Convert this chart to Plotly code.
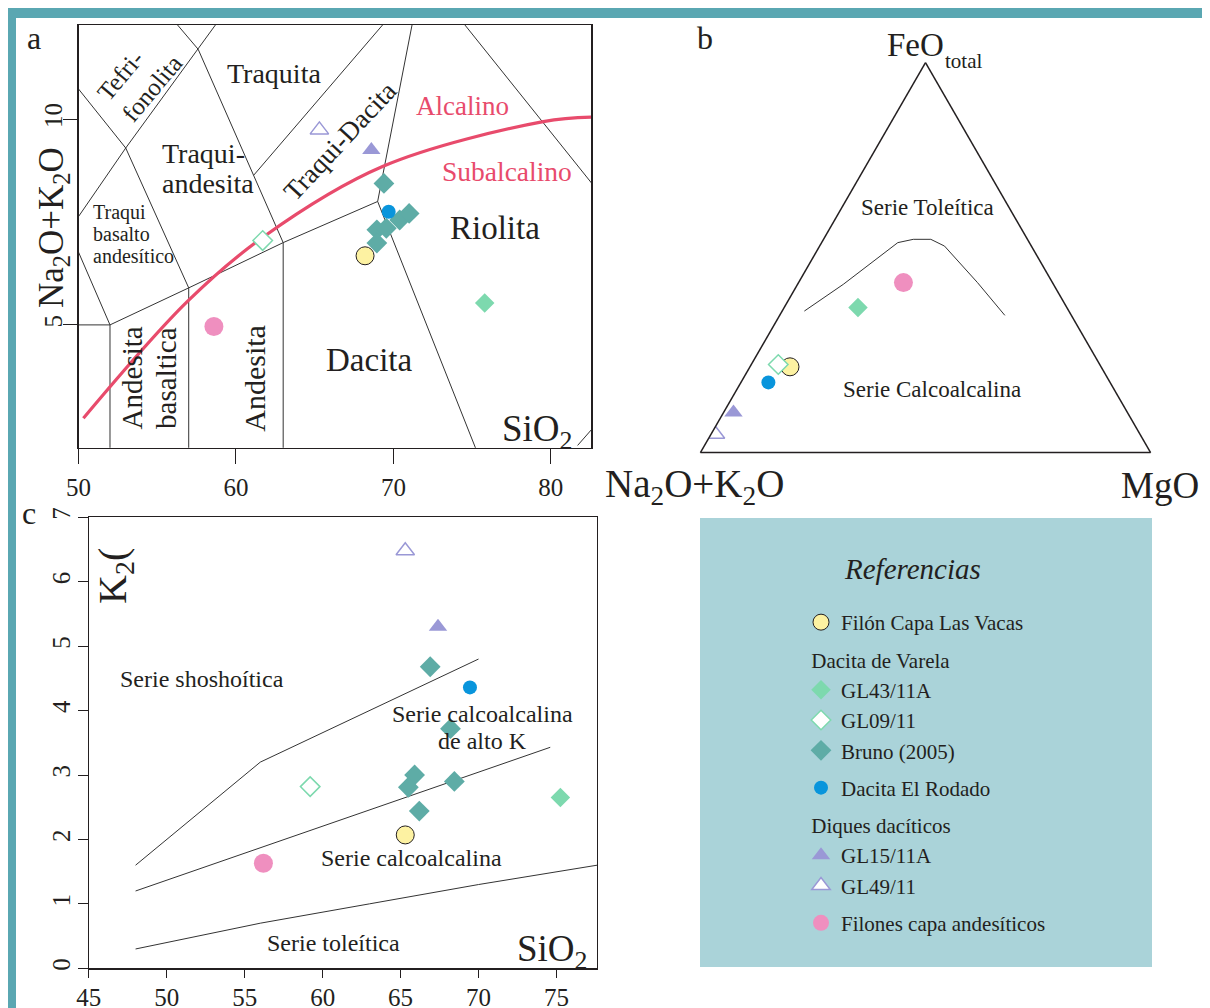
import plotly.graph_objects as go

W, H = 1210, 1008
OX, OY = 8, 8          # page body margin of the browser; positions below are screen pixels
SERIF = "Liberation Serif"
INK = "#231f20"
RED = "#e84b6c"


def PX(px):
    return (px - OX) / W


def PY(py):
    return 1 - (py - OY) / H


# ---------------- DATA ----------------
# Panel a : TAS (SiO2 vs Na2O+K2O)
vacas_sio2_a = [68.2]
vacas_alk_a = [6.68]
gl43_sio2_a = [75.8]
gl43_alk_a = [5.53]
gl09_sio2_a = [61.7]
gl09_alk_a = [7.05]
bruno_sio2_a = [69.4, 68.95, 69.55, 68.95, 70.4, 71.0]
bruno_alk_a = [8.44, 7.31, 7.35, 6.99, 7.55, 7.71]
rodado_sio2_a = [69.7]
rodado_alk_a = [7.75]
gl15_sio2_a = [68.6]
gl15_alk_a = [9.25]
gl49_sio2_a = [65.3]
gl49_alk_a = [9.74]
filones_sio2_a = [58.6]
filones_alk_a = [4.96]

# Panel b : AFM ternary (percent)
vacas_feo_b, vacas_alk_b, vacas_mgo_b = [22.0], [69.1], [8.9]
gl43_feo_b, gl43_alk_b, gl43_mgo_b = [37.2], [46.4], [16.4]
gl09_feo_b, gl09_alk_b, gl09_mgo_b = [22.6], [71.4], [6.0]
rodado_feo_b, rodado_alk_b, rodado_mgo_b = [18.0], [75.9], [6.1]
gl15_feo_b, gl15_alk_b, gl15_mgo_b = [10.3], [87.5], [2.2]
gl49_feo_b, gl49_alk_b, gl49_mgo_b = [4.7], [94.3], [1.0]
filones_feo_b, filones_alk_b, filones_mgo_b = [43.6], [33.1], [23.3]

# Panel c : SiO2 vs K2O
vacas_sio2_c, vacas_k2o_c = [65.3], [2.07]
gl43_sio2_c, gl43_k2o_c = [75.25], [2.65]
gl09_sio2_c, gl09_k2o_c = [59.2], [2.82]
bruno_sio2_c = [66.9, 68.2, 65.9, 65.5, 68.45, 66.2]
bruno_k2o_c = [4.68, 3.72, 3.0, 2.81, 2.90, 2.44]
rodado_sio2_c, rodado_k2o_c = [69.45], [4.36]
gl15_sio2_c, gl15_k2o_c = [67.4], [5.30]
gl49_sio2_c, gl49_k2o_c = [65.3], [6.48]
filones_sio2_c, filones_k2o_c = [56.2], [1.63]

# TAS field boundaries
tas_lines = [
    ([45, 48.4, 52.5], [9.4, 11.5, 14]),
    ([48.4, 53, 57, 57], [11.5, 9.3, 5.9, 0]),
    ([45, 49.4, 53, 57.6, 61], [5, 7.3, 9.3, 11.7, 13.5]),
    ([49.4, 52, 52], [7.3, 5, 0]),
    ([45, 52, 57, 63, 69, 77.3], [5, 5, 5.9, 7, 8, 0]),
    ([52.5, 57.6, 63, 63], [14, 11.7, 7, 0]),
    ([69, 71.8], [8, 13.5]),
    ([61.13, 70.5], [8.64, 12.82]),
    ([74.0, 83.0], [12.55, 8.25]),
    ([81.7, 82.8], [2.07, 2.55]),
]
# Irvine & Baragar alkaline / subalkaline curve
ib_sio2 = [50.31, 56.92, 61.78, 69.31, 79.52, 82.56]
ib_alk = [2.73, 5.57, 7.15, 8.85, 9.94, 10.05]

# AFM tholeiitic / calc-alkaline boundary
afm_feo = [36.3, 43.15, 53.85, 54.7, 54.7, 52.97, 43.59, 35.2]
afm_alk = [58.76, 46.69, 29.23, 25.36, 21.47, 19.29, 16.65, 14.78]
afm_mgo = [4.94, 10.16, 16.92, 19.94, 23.83, 27.74, 39.76, 50.02]

# Peccerillo & Taylor boundaries
pt_high_sio2, pt_high_k2o = [48, 56, 70], [1.6, 3.2, 4.8]
pt_mid_sio2, pt_mid_k2o = [48, 74.6], [1.2, 3.43]
pt_low_sio2 = [48, 52, 56, 63, 70, 77.6]
pt_low_k2o = [0.3, 0.5, 0.7, 1.0, 1.3, 1.6]

tas_xticks = [50, 60, 70, 80]
tas_yticks = [5, 10]
k_xticks = [45, 50, 55, 60, 65, 70, 75]
k_yticks = [0, 1, 2, 3, 4, 5, 6, 7]

# ---------------- STYLES ----------------
STY = {
    "vacas": dict(symbol="circle", size=18, color="#fdf2a2", line=dict(color=INK, width=1)),
    "gl43": dict(symbol="diamond", size=15, color="#7dd9ae", line=dict(width=0)),
    "gl09": dict(symbol="diamond", size=15, color="white", line=dict(color="#7dd9ae", width=1.5)),
    "bruno": dict(symbol="diamond", size=16, color="#5eaca6", line=dict(width=0)),
    "rodado": dict(symbol="circle", size=14, color="#0995dc", line=dict(width=0)),
    "gl15": dict(symbol="triangle-up", size=16, color="#9a98d6", line=dict(width=0)),
    "gl49": dict(symbol="triangle-up", size=16, color="white", line=dict(color="#9a98d6", width=1.5)),
    "filones": dict(symbol="circle", size=19, color="#ef8fbf", line=dict(width=0)),
}
NAMES = {
    "vacas": "Filón Capa Las Vacas", "gl43": "GL43/11A", "gl09": "GL09/11",
    "bruno": "Bruno (2005)", "rodado": "Dacita El Rodado", "gl15": "GL15/11A",
    "gl49": "GL49/11", "filones": "Filones capa andesíticos",
}
GROUP = {"vacas": "g1", "gl43": "varela", "gl09": "varela", "bruno": "varela",
         "rodado": "g3", "gl15": "diques", "gl49": "diques", "filones": "g5"}
GTITLE = {"gl43": "&nbsp;Dacita de Varela", "gl15": "&nbsp;Diques dacíticos"}

fig = go.Figure()


def line(x, y, xa, ya, color=INK, width=1.0, shape="linear"):
    fig.add_trace(go.Scatter(x=x, y=y, xaxis=xa, yaxis=ya, mode="lines",
                             line=dict(color=color, width=width, shape=shape),
                             showlegend=False, hoverinfo="skip"))


# Panel a lines
for lx, ly in tas_lines:
    line(lx, ly, "x", "y", color="#333333", width=1)
line(ib_sio2, ib_alk, "x", "y", color=RED, width=3.2, shape="spline")

# Panel c lines
line(pt_high_sio2, pt_high_k2o, "x2", "y2", color="#333333")
line(pt_mid_sio2, pt_mid_k2o, "x2", "y2", color="#333333")
line(pt_low_sio2, pt_low_k2o, "x2", "y2", color="#333333")

# Panel b boundary
fig.add_trace(go.Scatterternary(a=afm_feo, b=afm_alk, c=afm_mgo, mode="lines",
                                line=dict(color="#333333", width=1), showlegend=False,
                                hoverinfo="skip", subplot="ternary"))

tas = {
    "vacas": (vacas_sio2_a, vacas_alk_a), "gl43": (gl43_sio2_a, gl43_alk_a),
    "gl09": (gl09_sio2_a, gl09_alk_a), "bruno": (bruno_sio2_a, bruno_alk_a),
    "rodado": (rodado_sio2_a, rodado_alk_a), "gl15": (gl15_sio2_a, gl15_alk_a),
    "gl49": (gl49_sio2_a, gl49_alk_a), "filones": (filones_sio2_a, filones_alk_a),
}
afm = {
    "vacas": (vacas_feo_b, vacas_alk_b, vacas_mgo_b), "gl43": (gl43_feo_b, gl43_alk_b, gl43_mgo_b),
    "gl09": (gl09_feo_b, gl09_alk_b, gl09_mgo_b), "rodado": (rodado_feo_b, rodado_alk_b, rodado_mgo_b),
    "gl15": (gl15_feo_b, gl15_alk_b, gl15_mgo_b), "gl49": (gl49_feo_b, gl49_alk_b, gl49_mgo_b),
    "filones": (filones_feo_b, filones_alk_b, filones_mgo_b),
}
kk = {
    "vacas": (vacas_sio2_c, vacas_k2o_c), "gl43": (gl43_sio2_c, gl43_k2o_c),
    "gl09": (gl09_sio2_c, gl09_k2o_c), "bruno": (bruno_sio2_c, bruno_k2o_c),
    "rodado": (rodado_sio2_c, rodado_k2o_c), "gl15": (gl15_sio2_c, gl15_k2o_c),
    "gl49": (gl49_sio2_c, gl49_k2o_c), "filones": (filones_sio2_c, filones_k2o_c),
}
order = ["vacas", "gl43", "gl09", "bruno", "rodado", "gl15", "gl49", "filones"]

for key in order:
    x, y = tas[key]
    kw = {}
    if key in GTITLE:
        kw["legendgrouptitle"] = dict(text=GTITLE[key], font=dict(family=SERIF, size=21, color=INK))
    fig.add_trace(go.Scatter(x=x, y=y, xaxis="x", yaxis="y", mode="markers", name=NAMES[key],
                             marker=STY[key], legendgroup=GROUP[key], showlegend=True,
                             hoverinfo="skip", **kw))
for key in order:
    if key in afm:
        a, b, c = afm[key]
        fig.add_trace(go.Scatterternary(a=a, b=b, c=c, mode="markers", marker=STY[key],
                                        legendgroup=GROUP[key], showlegend=False,
                                        subplot="ternary", hoverinfo="skip"))
    x, y = kk[key]
    fig.add_trace(go.Scatter(x=x, y=y, xaxis="x2", yaxis="y2", mode="markers", marker=STY[key],
                             legendgroup=GROUP[key], showlegend=False, hoverinfo="skip"))

# ---------------- AXES ----------------
axfont = dict(family=SERIF, size=25, color=INK)
common = dict(showgrid=False, zeroline=False, showline=True, mirror=True, linecolor=INK,
              linewidth=1.2, ticks="outside", tickcolor=INK, tickfont=axfont, fixedrange=True,
              automargin=False)
fig.update_layout(
    xaxis=dict(domain=[PX(78.5), PX(591.3)], range=[50, 82.57], tickvals=tas_xticks, ticklen=15,
               ticklabelstandoff=2, anchor="y", **common),
    yaxis=dict(domain=[PY(447.7), PY(25)], range=[2.015, 12.29], tickvals=tas_yticks,
               ticklen=14, tickangle=-90, ticklabelstandoff=-9, anchor="x", **common),
    xaxis2=dict(domain=[PX(88.8), PX(597)], range=[45, 77.6], tickvals=k_xticks, ticklen=8,
                ticklabelstandoff=-2, anchor="y2", **common),
    yaxis2=dict(domain=[PY(968.3), PY(517.3)], range=[0, 7], tickvals=k_yticks,
                ticklen=10, tickangle=-90, ticklabelstandoff=-2, anchor="x2", **common),
)
tern_axis = dict(showgrid=False, showticklabels=False, ticks="", showline=True, linecolor=INK,
                 linewidth=1.5, title=dict(text=""), min=0)
fig.update_layout(ternary=dict(domain=dict(x=[PX(700.4), PX(1150.6)], y=[PY(453.3), PY(62)]),
                               sum=100, bgcolor="rgba(0,0,0,0)",
                               aaxis=tern_axis, baxis=tern_axis, caxis=tern_axis))

# ---------------- ANNOTATIONS ----------------
ann = []


def T(text, x, y, size, xref="x", yref="y", color=INK, angle=0, xanchor="center", align="center",
      italic=False):
    if xref == "paper":
        x = PX(x)
    if yref == "paper":
        y = PY(y)
    ann.append(dict(text=text, x=x, y=y, xref=xref, yref=yref, showarrow=False, textangle=angle,
                    xanchor=xanchor, yanchor="middle", align=align,
                    font=dict(family=SERIF, size=size, color=color,
                              style="italic" if italic else "normal")))


# panel a
T("a", 34, 38, 32, "paper", "paper")
T("Tefri-<br>fonolita", 53.89, 11.0, 25, angle=-50, align="left")
T("Traquita", 62.39, 11.12, 28)
T("Traqui-", 55.17, 9.17, 28, xanchor="left")
T("andesita", 55.17, 8.44, 28, xanchor="left")
T("Traqui-Dacita", 66.63, 9.46, 27, angle=-47)
T("Traqui", 50.80, 7.73, 20, xanchor="left")
T("basalto", 50.80, 7.21, 20, xanchor="left")
T("andesítico", 50.80, 6.68, 20, xanchor="left")
T("Andesita", 53.40, 3.70, 29, angle=-90)
T("basaltica", 55.59, 3.70, 29, angle=-90)
T("Andesita", 61.17, 3.70, 30, angle=-90)
T("Dacita", 68.46, 4.15, 33)
T("Riolita", 76.48, 7.35, 33)
T("Alcalino", 74.41, 10.31, 27, color=RED)
T("Subalcalino", 77.21, 8.73, 27.5, color=RED)
T("SiO<sub>2</sub>", 79.16, 2.40, 37)
T("Na<sub>2</sub>O+K<sub>2</sub>O", 53, 228, 35, "paper", "paper", angle=-90)

# panel b
T("b", 705, 38, 32, "paper", "paper")
T("FeO", 915, 45, 33, "paper", "paper")
T("total", 943, 61, 21, "paper", "paper", xanchor="left")
T("Na<sub>2</sub>O+K<sub>2</sub>O", 694, 486, 39, "paper", "paper")
T("MgO", 1160, 485, 37, "paper", "paper")
T("Serie Toleítica", 927, 208, 23, "paper", "paper")
T("Serie Calcoalcalina", 932, 389, 23, "paper", "paper")

# panel c
T("c", 29, 513, 32, "paper", "paper")
T("K<sub>2</sub>(", 115, 576, 40, "paper", "paper", angle=-90)
T("Serie shoshoítica", 52.24, 4.49, 24, "x2", "y2")
T("Serie calcoalcalina", 70.28, 3.94, 24, "x2", "y2")
T("de alto K", 70.27, 3.53, 24, "x2", "y2")
T("Serie calcoalcalina", 65.68, 1.71, 24, "x2", "y2")
T("Serie toleítica", 60.72, 0.39, 24, "x2", "y2")
T("SiO<sub>2</sub>", 74.76, 0.26, 37, "x2", "y2")

# legend title
T("Referencias", 913, 569, 29, "paper", "paper", italic=True)

# ---------------- SHAPES ----------------
TEAL = "#5aa7b2"


def rect(x0, x1, y0, y1, color, layer):
    return dict(type="rect", xref="paper", yref="paper", x0=PX(x0), x1=PX(x1), y0=PY(y1),
                y1=PY(y0), fillcolor=color, line=dict(width=0), layer=layer)


shapes = [
    rect(700, 1152, 518, 967, "#aad3d9", "below"),     # legend panel
    rect(6, 16, 8, 1020, TEAL, "above"),               # frame left
    rect(6, 1220, 8, 18, TEAL, "above"),               # frame top
    rect(1206, 1220, 8, 1020, TEAL, "above"),          # frame right
]

fig.update_layout(
    width=W, height=H, margin=dict(l=0, r=0, t=0, b=0, autoexpand=False),
    paper_bgcolor="white", plot_bgcolor="rgba(0,0,0,0)",
    annotations=ann, shapes=shapes,
    legend=dict(x=PX(801), y=PY(602), xanchor="left", yanchor="top",
                bgcolor="rgba(0,0,0,0)", font=dict(family=SERIF, size=21, color=INK),
                traceorder="grouped", tracegroupgap=7, itemsizing="trace", itemclick=False,
                itemdoubleclick=False),
    font=dict(family=SERIF, color=INK),
)

fig.write_html("out.html", config={"displayModeBar": False, "staticPlot": True})
